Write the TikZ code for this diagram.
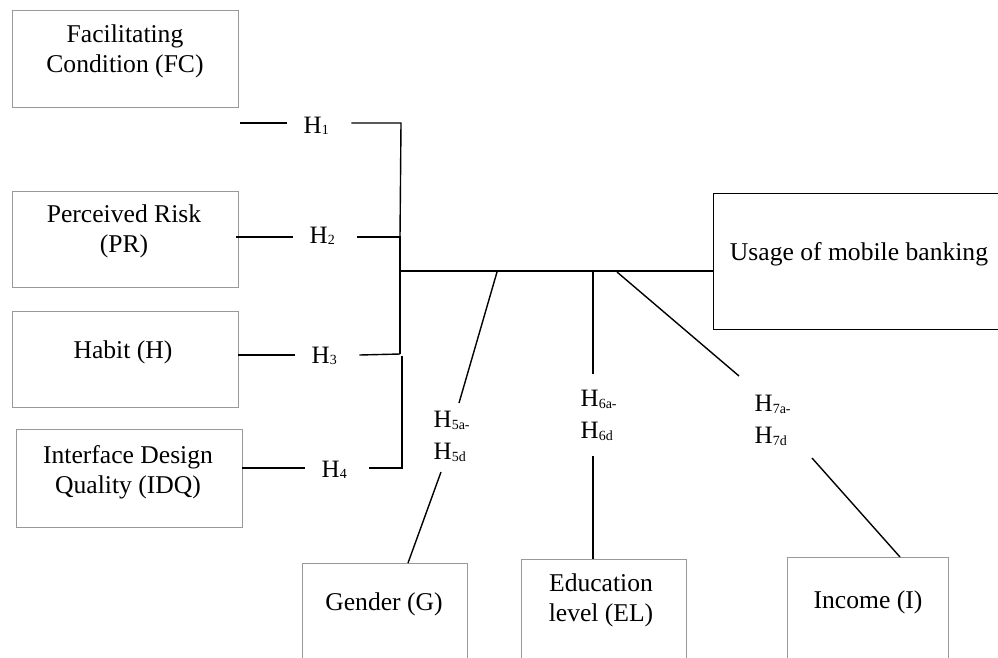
\documentclass[tikz,border=0pt]{standalone}
\usepackage{fontspec}
\setmainfont{Liberation Serif}
\newcommand{\hsb}[1]{\raisebox{-1.5pt}{\fontsize{14}{14}\selectfont #1}}
\begin{document}
\begin{tikzpicture}[x=1pt,y=-1pt,
  line width=1.4pt,
  gbox/.style={draw=black!40, line width=1.2pt, rectangle, inner sep=0pt, anchor=north west},
  bbox/.style={draw=black, line width=1.4pt, rectangle, inner sep=0pt, anchor=north west},
  txt/.style={inner sep=0pt, align=center, font=\fontsize{25.6}{30}\selectfont},
  hyp/.style={inner ysep=0pt, inner xsep=16pt, text width=31pt, align=left, anchor=base west, font=\fontsize{25}{30}\selectfont},
  mod/.style={inner sep=0pt, align=left, anchor=north west, font=\fontsize{25}{32}\selectfont}
]
\useasboundingbox (0,0) rectangle (998,657);
\clip (0,0) rectangle (998,657);

% boxes
\node[gbox, minimum width=226pt, minimum height=97pt] (fc) at (12,10) {};
\node[gbox, minimum width=226pt, minimum height=96pt] (pr) at (12,191) {};
\node[gbox, minimum width=226pt, minimum height=96pt] (hb) at (12,311) {};
\node[gbox, minimum width=226pt, minimum height=98pt] (idq) at (16,429) {};
\node[bbox, minimum width=320pt, minimum height=136pt] (use) at (713,193) {};
\node[gbox, minimum width=165pt, minimum height=120pt] (gen) at (302,563) {};
\node[gbox, minimum width=165pt, minimum height=120pt] (edu) at (521,559) {};
\node[gbox, minimum width=161pt, minimum height=120pt] (inc) at (787,557) {};

% box texts
\node[txt, anchor=north] (fct) at (125,24.5) {Facilitating\\Condition (FC)};
\node[txt, anchor=north] (prt) at (124,204.5) {Perceived Risk\\(PR)};
\node[txt, anchor=base] (hbt) at (123,358) {Habit (H)};
\node[txt, anchor=north] (idqt) at (128,444.5) {Interface Design\\Quality (IDQ)};
\node[txt, anchor=base] (uset) at (859,260) {Usage of mobile banking};
\node[txt, anchor=base] (gent) at (384,610) {Gender (G)};
\node[txt, anchor=north] (edut) at (601,573.5) {Education\\level (EL)};
\node[txt, anchor=base] (inct) at (868,608) {Income (I)};

% hypothesis labels
\node[hyp] (h1) at (287,133) {H\hsb{1}};
\node[hyp] (h2) at (293,243) {H\hsb{2}};
\node[hyp] (h3) at (295,363) {H\hsb{3}};
\node[hyp] (h4) at (305,477) {H\hsb{4}};

% line coordinates
\coordinate (s1) at (240,123);
\coordinate (s2) at (236,237);
\coordinate (s3) at (238,355);
\coordinate (s4) at (242,468);
\coordinate (r1) at (401,123);
\coordinate (r2) at (400,237);
\coordinate (r3) at (400,354);
\coordinate (r3b) at (402,356);
\coordinate (r4) at (402,468);
\coordinate (jn) at (400,271);

\draw (s1) -- (h1.west |- s1);
\draw (h1.east |- s1) -- (r1) -- (r2);
\draw (s2) -- (h2.west |- s2);
\draw (h2.east |- s2) -- (r2) -- (r3);
\draw (s3) -- (h3.west |- s3);
\draw (h3.east |- s3) -- (r3);
\draw (r3b) -- (r4) -- (h4.east |- s4);
\draw (s4) -- (h4.west |- s4);
\draw (jn) -- (use.west |- jn);

% moderator labels
\node[mod] (l5) at (433,410.5) {H\hsb{5a-}\\H\hsb{5d}};
\node[mod] (l6) at (580,389.5) {H\hsb{6a-}\\H\hsb{6d}};
\node[mod] (l7) at (754,394.5) {H\hsb{7a-}\\H\hsb{7d}};

% moderator connectors
\coordinate (m5) at (497,272);
\coordinate (m5e) at (459,403);
\coordinate (m5s) at (441,472);
\coordinate (g5) at (408,563);
\coordinate (m6) at (593,271);
\coordinate (m6e) at (593,374);
\coordinate (m6s) at (593,456);
\coordinate (e6) at (593,559);
\coordinate (m7) at (617,272);
\coordinate (m7e) at (739,376);
\coordinate (m7s) at (812,458);
\coordinate (i7) at (900,557);

\draw (m5) -- (m5e);
\draw (m5s) -- (g5);
\draw (m6) -- (m6e);
\draw (m6s) -- (e6);
\draw (m7) -- (m7e);
\draw (m7s) -- (i7);
\end{tikzpicture}
\end{document}
